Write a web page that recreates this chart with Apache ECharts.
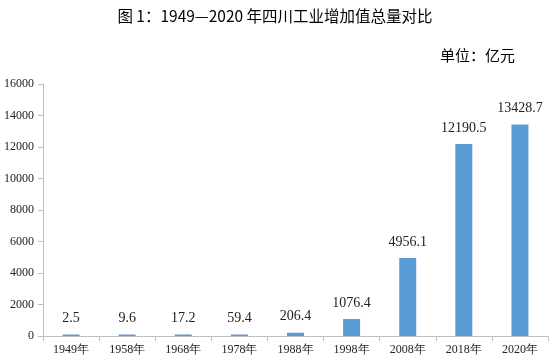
<!DOCTYPE html>
<html><head><meta charset="utf-8">
<script src="https://cdn.jsdelivr.net/npm/echarts@6/dist/echarts.min.js"></script>
<style>html,body{margin:0;padding:0;background:#fff}#c{width:550px;height:361px}</style>
</head><body><div id="c"></div>
<script>
var categories = ['1949年','1958年','1968年','1978年','1988年','1998年','2008年','2018年','2020年'];
var values = [2.5, 9.6, 17.2, 59.4, 206.4, 1076.4, 4956.1, 12190.5, 13428.7];
var chart = echarts.init(document.getElementById('c'));
chart.setOption({
  backgroundColor: '#fff',
  animation: false,
  title: [
    {text: '图 1：1949—2020 年四川工业增加值总量对比', left: 'center', top: 3,
     textStyle: {fontFamily: 'Noto Sans CJK SC', fontSize: 15.5, fontWeight: 'normal', color: '#000'}},
    {text: '单位：亿元', right: 30, top: 43,
     textStyle: {fontFamily: 'Noto Sans CJK SC', fontSize: 15, fontWeight: 'normal', color: '#000'}}
  ],
  grid: {left: 43, right: 2, top: 84, bottom: 25},
  xAxis: {
    type: 'category', data: categories,
    axisLine: {lineStyle: {color: '#bfbfbf'}},
    axisTick: {show: true, length: 5, lineStyle: {color: '#bfbfbf'}},
    axisLabel: {fontFamily: 'Liberation Serif', fontSize: 12, color: '#222', margin: 8}
  },
  yAxis: {
    type: 'value', min: 0, max: 16000, interval: 2000,
    axisLine: {show: true, lineStyle: {color: '#bfbfbf'}},
    axisTick: {show: true, length: 5, lineStyle: {color: '#bfbfbf'}},
    splitLine: {show: false},
    axisLabel: {fontFamily: 'Liberation Serif', fontSize: 12, color: '#222', margin: 9,
      formatter: function (v) { return String(v); }}
  },
  series: [{
    type: 'bar', data: values, barWidth: 17, barMinHeight: 1.5,
    itemStyle: {color: '#5b9bd5'},
    label: {show: true, position: 'top', distance: 9, fontFamily: 'Liberation Serif', fontSize: 14, color: '#222'}
  }]
});
</script></body></html>
